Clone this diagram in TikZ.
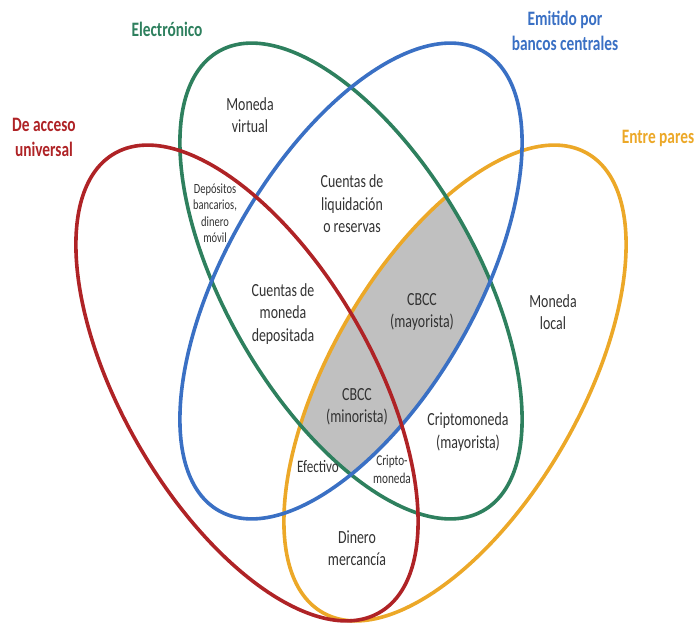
\documentclass[tikz,border=0pt]{standalone}
\usepackage{fontspec}
\setmainfont{Carlito}[FakeStretch=0.75]
\definecolor{cgreen}{RGB}{46,128,94}
\definecolor{cblue}{RGB}{58,112,196}
\definecolor{cred}{RGB}{175,35,38}
\definecolor{cyellow}{RGB}{236,168,40}
\definecolor{cgray}{RGB}{192,192,192}
\definecolor{ctext}{RGB}{50,50,50}
\begin{document}
\begin{tikzpicture}[x=1pt,y=-1pt,
  ring/.style={line width=3.6pt},
  lbl/.style={align=center, text=ctext, font=\fontsize{18.5}{22.5}\selectfont, inner sep=0pt},
  slbl/.style={align=center, text=ctext, font=\fontsize{14}{16.5}\selectfont, inner sep=0pt},
  head/.style={align=center, font=\fontsize{20.5}{25}\selectfont\bfseries, inner sep=0pt},
  ell/.style={x radius=265pt, y radius=125pt}]
\useasboundingbox (0,0) rectangle (697,623);
\coordinate (cG) at (351,281);
\coordinate (cB) at (351,281);
\coordinate (cR) at (247,383);
\coordinate (cY) at (455,383);
% gray region: green & blue & yellow
\begin{scope}
  \clip[rotate around={-60:(cG)}] (cG) ellipse [ell];
  \clip[rotate around={60:(cB)}] (cB) ellipse [ell];
  \fill[cgray, rotate around={60:(cY)}] (cY) ellipse [ell];
\end{scope}
\draw[ring, cyellow, rotate around={60:(cY)}] (cY) ellipse [ell];
\draw[ring, cgreen, rotate around={-60:(cG)}] (cG) ellipse [ell];
\draw[ring, cblue, rotate around={60:(cB)}] (cB) ellipse [ell];
\draw[ring, cred, rotate around={-60:(cR)}] (cR) ellipse [ell];
% headings
\node[head, text=cgreen] (hG) at (167,29) {Electrónico};
\node[head, text=cblue] (hB) at (565,31) {Emitido por\\bancos centrales};
\node[head, text=cred] (hR) at (44,137) {De acceso\\universal};
\node[head, text=cyellow] (hY) at (658,138) {Entre pares};
% labels
\node[lbl] (mv) at (250,115) {Moneda\\virtual};
\node[slbl] (dep) at (215,213) {Depósitos\\bancarios,\\dinero\\móvil};
\node[lbl] (cl) at (352,204) {Cuentas de\\liquidación\\o reservas};
\node[lbl] (cm) at (283,314) {Cuentas de\\moneda\\depositada};
\node[lbl] (cmay) at (422,312) {CBCC\\(mayorista)};
\node[lbl] (ml) at (553,312) {Moneda\\local};
\node[lbl] (cmin) at (357,407) {CBCC\\(minorista)};
\node[lbl] (crm) at (468,432) {Criptomoneda\\(mayorista)};
\node[lbl, font=\fontsize{17.5}{20}\selectfont] (ef) at (318,467) {Efectivo};
\node[slbl, font=\fontsize{15}{18}\selectfont] (cr) at (392,469) {Cripto-\\moneda};
\node[lbl] (dm) at (357,548) {Dinero\\mercancía};
\end{tikzpicture}
\end{document}
